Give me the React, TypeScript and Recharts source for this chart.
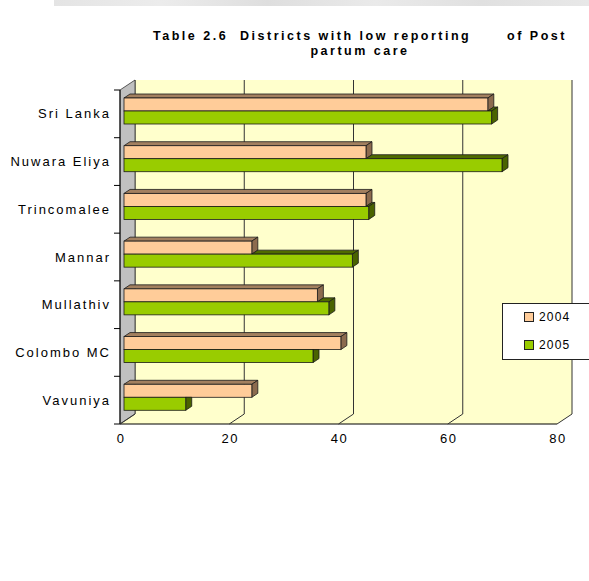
import React from 'react'
import { Bar, BarChart, CartesianGrid, Legend, ReferenceArea, XAxis, YAxis } from 'recharts'

const districts = ['Sri Lanka', 'Nuwara Eliya', 'Trincomalee', 'Mannar', 'Mullathiv', 'Colombo MC', 'Vavuniya']
const year2004 = [66.6, 44.3, 44.3, 23.4, 35.4, 39.7, 23.4]
const year2005 = [67.3, 69.2, 44.8, 41.8, 37.5, 34.6, 11.3]
const xTicks = [0, 20, 40, 60, 80]

const data = districts.map((name, i) => ({ name, y2004: year2004[i], y2005: year2005[i] }))

const FONT = '"Liberation Sans", Arial, sans-serif'

// fake 3D: the front plane is offset from the back wall by (-DX, +DY)
const DX = 15
const DY = 10
// bars sit part way into the depth and have a small thickness of their own
const BAR_DX = 11
const BAR_DY = 7
const BX = 6
const BY = 4

const EDGE = '#1a1a1a'

const faces = {
  y2004: { front: '#FFCC99', top: '#A3805F', side: '#8C6B4E' },
  y2005: { front: '#99CC00', top: '#4F6A00', side: '#4A6300' },
}

const pts = (arr: number[][]) => arr.map((p) => p.join(',')).join(' ')

const Bar2004 = (p: any) => {
  const c = faces.y2004
  const fx = p.x - BAR_DX
  const fy = p.y + BAR_DY
  const w = p.width
  const h = p.height
  const e = fx + w
  return (
    <g>
      <polygon points={pts([[fx, fy], [fx + BX, fy - BY], [e + BX, fy - BY], [e, fy]])} fill={c.top} stroke={EDGE} strokeWidth={0.8} />
      <polygon points={pts([[e, fy], [e + BX, fy - BY], [e + BX, fy + h - BY], [e, fy + h]])} fill={c.side} stroke={EDGE} strokeWidth={0.8} />
      <rect x={fx} y={fy} width={w} height={h} fill={c.front} stroke={EDGE} strokeWidth={0.8} />
    </g>
  )
}

// the 2005 box lies under the 2004 box, so only the parts that stick out are drawn
const Bar2005 = (p: any) => {
  const c = faces.y2005
  const fx = p.x - BAR_DX
  const fy = p.y + BAR_DY
  const w = p.width
  const h = p.height
  const e = fx + w
  const perUnit = p.payload.y2005 ? w / p.payload.y2005 : 0
  const e4 = fx + p.payload.y2004 * perUnit
  const longer = e > e4
  const s = Math.max(fx, e4)
  return (
    <g>
      {longer && (
        <polygon points={pts([[s, fy], [s + BX, fy - BY], [e + BX, fy - BY], [e, fy]])} fill={c.top} stroke={EDGE} strokeWidth={0.8} />
      )}
      {longer ? (
        <polygon points={pts([[e, fy], [e + BX, fy - BY], [e + BX, fy + h - BY], [e, fy + h]])} fill={c.side} stroke={EDGE} strokeWidth={0.8} />
      ) : (
        <polygon points={pts([[e, fy], [e + BX, fy], [e + BX, fy + h - BY], [e, fy + h]])} fill={c.side} stroke={EDGE} strokeWidth={0.8} />
      )}
      <rect x={fx} y={fy} width={w} height={h} fill={c.front} stroke={EDGE} strokeWidth={0.8} />
    </g>
  )
}

// side wall, floor and the front category axis
const Walls = (p: any) => {
  const L = p.x
  const R = p.x + p.width
  const T = p.y
  const B = p.y + p.height
  const n = districts.length
  const step = (B - T) / n
  return (
    <g>
      <polygon points={pts([[L - DX, B + DY], [L, B], [R, B], [R - DX, B + DY]])} fill="#FFFFCC" />
      <polygon points={pts([[L - DX, T + DY], [L, T], [L, B], [L - DX, B + DY]])} fill="#C0C0C0" stroke="#333" strokeWidth={0.8} />
      <line x1={L - DX} y1={T + DY} x2={L - DX} y2={B + DY} stroke="#000" strokeWidth={1} />
      <line x1={L - DX - 6} y1={B + DY} x2={R - DX} y2={B + DY} stroke="#000" strokeWidth={1} />
      {districts.map((d, i) => (
        <line key={d} x1={L - DX - 6} y1={T + DY + i * step} x2={L - DX} y2={T + DY + i * step} stroke="#000" strokeWidth={1} />
      ))}
    </g>
  )
}

const XTick = ({ x, y, payload }: any) => (
  <g>
    <line x1={x - DX} y1={y + DY} x2={x} y2={y} stroke="#333" strokeWidth={1} />
    <text x={x - DX + 1} y={y + DY + 19} textAnchor="middle" fontFamily={FONT} fontSize={13} letterSpacing={1.5} fill="#000">
      {payload.value}
    </text>
  </g>
)

const YTick = ({ x, y, payload }: any) => (
  <text x={x - DX - 9} y={y + DY} textAnchor="end" dominantBaseline="central" fontFamily={FONT} fontSize={13} letterSpacing={2} fill="#000">
    {payload.value}
  </text>
)

const LegendBox = ({ payload }: any) => (
  <div
    style={{
      position: 'relative',
      width: 87,
      height: 57,
      boxSizing: 'border-box',
      border: '1px solid #222',
      borderRight: 'none',
      background: '#fff',
      fontFamily: FONT,
      fontSize: 12,
    }}
  >
    {(payload || []).map((item: any, i: number) => (
      <div key={item.value} style={{ position: 'absolute', left: 21, top: 6 + i * 28, display: 'flex', alignItems: 'center', height: 14 }}>
        <span style={{ display: 'inline-block', width: 8, height: 8, border: '1px solid #222', background: item.color }} />
        <span style={{ marginLeft: 5, letterSpacing: 1.2, color: '#000' }}>{item.value}</span>
      </div>
    ))}
  </div>
)

export default function App() {
  return (
    <div style={{ position: 'absolute', left: 0, top: 0, width: 589, height: 581, background: '#fff', overflow: 'hidden' }}>
      <div
        style={{
          position: 'absolute',
          left: 54,
          top: 0,
          width: 535,
          height: 6,
          background: 'linear-gradient(90deg, #e4e4e4, #ececec 20%, #dedede 40%, #eaeaea 60%, #e0e0e0 80%, #e8e8e8)',
        }}
      />
      <div
        style={{
          position: 'absolute',
          left: 110,
          top: 29,
          width: 500,
          textAlign: 'center',
          fontFamily: FONT,
          fontWeight: 'bold',
          fontSize: 12.5,
          lineHeight: '15px',
          letterSpacing: 2.5,
          whiteSpace: 'pre',
          color: '#000',
          zIndex: 2,
        }}
      >
        {'Table 2.6  Districts with low reporting      of Post'}
        <br />
        {'partum care'}
      </div>
      <BarChart
        width={589}
        height={581}
        data={data}
        layout="vertical"
        margin={{ top: 80, right: 17, bottom: 127, left: 0 }}
        barCategoryGap={11}
        barGap={0}
      >
        <CartesianGrid fill="#FFFFCC" horizontal={false} stroke="#333" strokeWidth={1} />
        <ReferenceArea x1={0} x2={80} shape={<Walls />} zIndex={-50} />
        <XAxis
          type="number"
          domain={[0, 80]}
          ticks={xTicks}
          axisLine={false}
          tickLine={false}
          tickSize={0}
          tickMargin={0}
          height={40}
          tick={<XTick />}
          interval={0}
        />
        <YAxis
          type="category"
          dataKey="name"
          width={135}
          axisLine={false}
          tickLine={false}
          tickSize={0}
          tickMargin={0}
          tick={<YTick />}
          interval={0}
        />
        <Legend
          layout="vertical"
          align="center"
          verticalAlign="middle"
          content={<LegendBox />}
          wrapperStyle={{ left: 502, top: 303, width: 87, height: 57 }}
        />
        <Bar dataKey="y2004" name="2004" fill="#FFCC99" shape={<Bar2004 />} isAnimationActive={false} />
        <Bar dataKey="y2005" name="2005" fill="#99CC00" shape={<Bar2005 />} isAnimationActive={false} />
      </BarChart>
    </div>
  )
}
